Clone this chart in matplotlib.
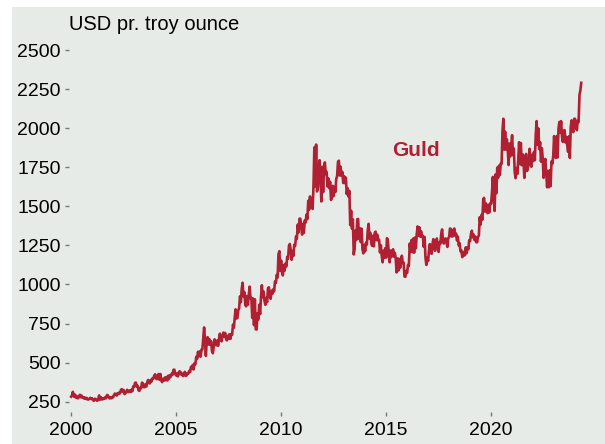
import numpy as np
import matplotlib.pyplot as plt
from matplotlib.patches import Rectangle

plt.rcParams['font.family'] = ['Liberation Sans', 'DejaVu Sans']

# Gold price, USD per troy ounce: monthly high / low
start_year = 2000
hi = [
    290, 313, 297, 288, 284, 294, 289, 279, 276, 274, 270, 275,          # 2000
    272, 268, 268, 264, 290, 279, 273, 279, 293, 291, 279, 280,          # 2001
    293, 302, 304, 309, 327, 330, 325, 315, 326, 323, 326, 348,          # 2002
    370, 372, 352, 340, 372, 368, 361, 375, 389, 390, 400, 417,          # 2003
    425, 419, 427, 427, 396, 404, 408, 416, 420, 430, 454, 455,          # 2004
    430, 436, 445, 436, 428, 441, 432, 447, 473, 485, 496, 537,          # 2005
    569, 572, 584, 655, 725, 643, 663, 650, 637, 602, 649, 641,          # 2006
    650, 685, 672, 692, 690, 672, 682, 682, 743, 790, 841, 834,          # 2007
    924, 973, 1011, 951, 926, 928, 986, 913, 910, 905, 815, 870,         # 2008
    920, 995, 954, 914, 976, 982, 960, 969, 1019, 1061, 1194, 1213,      # 2009
    1153, 1124, 1134, 1177, 1249, 1259, 1214, 1254, 1307, 1383, 1421, 1421,  # 2010
    1388, 1410, 1447, 1535, 1563, 1552, 1629, 1877, 1895, 1747, 1795, 1753,  # 2011
    1744, 1781, 1720, 1678, 1657, 1631, 1623, 1675, 1784, 1792, 1753, 1720,  # 2012
    1693, 1683, 1616, 1599, 1472, 1417, 1344, 1417, 1419, 1359, 1357, 1253,  # 2013
    1267, 1345, 1388, 1330, 1311, 1329, 1338, 1318, 1285, 1251, 1216, 1232,  # 2014
    1296, 1283, 1217, 1210, 1225, 1202, 1167, 1164, 1150, 1184, 1140, 1087,  # 2015
    1125, 1262, 1284, 1294, 1300, 1322, 1371, 1366, 1340, 1312, 1304, 1174,  # 2016
    1220, 1258, 1258, 1290, 1270, 1294, 1271, 1324, 1352, 1292, 1294, 1296,  # 2017
    1358, 1354, 1350, 1358, 1325, 1306, 1264, 1219, 1209, 1237, 1237, 1283,  # 2018
    1324, 1344, 1319, 1306, 1305, 1430, 1445, 1546, 1554, 1519, 1510, 1519,  # 2019
    1590, 1688, 1703, 1747, 1760, 1774, 1981, 2060, 1978, 1929, 1902, 1888,  # 2020
    1955, 1870, 1745, 1798, 1910, 1905, 1833, 1817, 1835, 1798, 1868, 1830,  # 2021
    1848, 1958, 2045, 1998, 1910, 1872, 1787, 1803, 1726, 1730, 1787, 1824,  # 2022
    1949, 1949, 1995, 2040, 2045, 1984, 1987, 1944, 1948, 2007, 2050, 2060,  # 2023
    2060, 2047, 2214, 2290,                                                  # 2024
]
lo = [
    282, 283, 277, 273, 272, 278, 276, 270, 267, 264, 264, 268,
    260, 256, 258, 256, 263, 265, 265, 269, 272, 278, 271, 272,
    278, 294, 289, 299, 304, 314, 299, 303, 312, 312, 312, 317,
    345, 346, 323, 319, 336, 343, 343, 347, 369, 367, 380, 397,
    400, 394, 390, 387, 375, 385, 387, 386, 397, 410, 422, 427,
    418, 412, 425, 421, 414, 415, 418, 430, 440, 463, 456, 489,
    524, 541, 538, 585, 642, 543, 616, 614, 573, 560, 614, 611,
    608, 650, 636, 667, 652, 642, 652, 652, 680, 723, 782, 785,
    847, 887, 923, 871, 860, 870, 912, 786, 740, 713, 712, 777,
    810, 918, 895, 870, 887, 921, 908, 940, 956, 1010, 1045, 1087,
    1078, 1058, 1088, 1116, 1166, 1220, 1158, 1182, 1246, 1292, 1334, 1365,
    1319, 1330, 1396, 1418, 1478, 1496, 1483, 1628, 1595, 1617, 1678, 1531,
    1590, 1706, 1627, 1616, 1541, 1556, 1565, 1591, 1693, 1697, 1697, 1649,
    1648, 1578, 1563, 1380, 1357, 1192, 1226, 1285, 1292, 1271, 1226, 1199,
    1212, 1255, 1294, 1268, 1247, 1244, 1283, 1282, 1205, 1183, 1142, 1172,
    1172, 1198, 1142, 1175, 1178, 1165, 1077, 1089, 1106, 1137, 1051, 1049,
    1074, 1118, 1210, 1207, 1203, 1232, 1311, 1306, 1304, 1241, 1171, 1125,
    1150, 1216, 1196, 1235, 1215, 1238, 1208, 1260, 1274, 1262, 1270, 1240,
    1303, 1307, 1307, 1311, 1281, 1250, 1212, 1175, 1182, 1187, 1200, 1226,
    1278, 1302, 1284, 1270, 1270, 1312, 1383, 1414, 1466, 1473, 1456, 1461,
    1518, 1547, 1470, 1584, 1683, 1700, 1772, 1863, 1863, 1865, 1764, 1820,
    1827, 1716, 1680, 1707, 1770, 1763, 1791, 1682, 1726, 1746, 1768, 1753,
    1789, 1795, 1895, 1866, 1786, 1806, 1682, 1711, 1622, 1622, 1629, 1772,
    1825, 1809, 1813, 1971, 1944, 1912, 1909, 1889, 1848, 1810, 1987, 1975,
    2005, 1987, 2039, 2240,
]
year_ticks = [2000, 2005, 2010, 2015, 2020]
value_ticks = [250, 500, 750, 1000, 1250, 1500, 1750, 2000, 2250, 2500]
series_label = "Guld"
unit_label = "USD pr. troy ounce"

# build a zig-zag path: two points per month, order follows the trend
hi = np.array(hi, dtype=float)
lo = np.array(lo, dtype=float)
mid = (hi + lo) / 2
xs, ys = [], []
for i in range(len(hi)):
    t = start_year + i / 12
    rising = i + 1 >= len(hi) or mid[i + 1] >= mid[i]
    first, second = (lo[i], hi[i]) if rising else (hi[i], lo[i])
    xs += [t + 0.25 / 12, t + 0.75 / 12]
    ys += [first, second]

red = '#b01f32'
bg = '#e7ebe8'
W, H = 605, 444

fig = plt.figure(figsize=(W / 100, H / 100), dpi=100, facecolor='white')
fig.patches.append(Rectangle((12 / W, 0), (W - 12) / W, (H - 7) / H,
                             transform=fig.transFigure, facecolor=bg,
                             edgecolor='none', zorder=-10))

# axes box in pixels: left 69, right 590, top 45, bottom 412
ax = fig.add_axes([69 / W, 1 - 412 / H, (590 - 69) / W, (412 - 45) / H])
ax.set_facecolor('none')
ax.plot(xs, ys, color=red, lw=1.9, solid_joinstyle='round')

ax.set_xlim(1999.92, 2024.73)
ax.set_ylim(184, 2532)
ax.set_xticks(year_ticks)
ax.set_yticks(value_ticks)
for s in ax.spines.values():
    s.set_visible(False)
ax.tick_params(axis='both', length=3, width=1, color='#777777',
               labelsize=14, labelcolor='black')
ax.tick_params(axis='y', pad=3)
ax.tick_params(axis='x', pad=4)

ax.text(2016.45, 1860, series_label, color=red, fontsize=15,
        fontweight='bold', ha='center', va='center')
fig.text(69 / W, 1 - 25 / H, unit_label, fontsize=14.5, ha='left',
         va='center')

fig.savefig('out.png', dpi=100, facecolor='white')
